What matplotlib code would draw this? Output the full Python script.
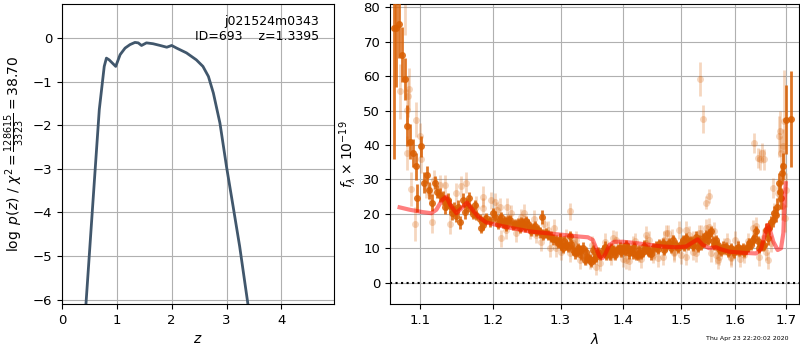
import numpy as np
import matplotlib.pyplot as plt
from matplotlib.ticker import NullLocator

# p(z) curve
z_grid = [0.40, 0.437, 0.60, 0.68, 0.77, 0.81, 0.86, 0.98, 1.06, 1.15, 1.24, 1.33,
          1.39, 1.45, 1.54, 1.66, 1.79, 1.91, 2.00, 2.09, 2.27, 2.45, 2.57, 2.67,
          2.76, 2.88, 3.00, 3.12, 3.24, 3.39, 3.45]
log_pz = [-6.6, -6.10, -3.10, -1.64, -0.65, -0.46, -0.50, -0.65, -0.38, -0.23, -0.15, -0.10,
          -0.11, -0.17, -0.11, -0.13, -0.17, -0.21, -0.17, -0.23, -0.34, -0.50, -0.65, -0.88,
          -1.26, -1.95, -2.95, -3.86, -4.78, -6.10, -6.60]

# spectrum, primary beam
wave_a = [1.0656, 1.0690, 1.0724, 1.0758, 1.0801, 1.0831, 1.0870, 1.0904, 1.0939, 1.0961,
          1.1004, 1.1048, 1.1088, 1.1114, 1.1154, 1.1189, 1.1220, 1.1256, 1.1301, 1.1346,
          1.1391, 1.1427, 1.1528, 1.1574, 1.1629, 1.1689, 1.1759, 1.1829, 1.1853, 1.1876,
          1.1900, 1.1947, 1.1995, 1.2019, 1.2091, 1.2139, 1.2163, 1.2212, 1.2236, 1.2285,
          1.2359, 1.2432, 1.2482, 1.2531, 1.2580, 1.2656, 1.2717, 1.2782, 1.2858, 1.2935,
          1.3012, 1.3038, 1.3090, 1.3142, 1.3220, 1.3274, 1.3298, 1.3377, 1.3457, 1.3510,
          1.3564, 1.3672, 1.3729, 1.3781, 1.3839, 1.3891, 1.3946, 1.4001, 1.4056, 1.4112,
          1.4168, 1.4224, 1.4281, 1.4337, 1.4394, 1.4451, 1.4566, 1.4682, 1.4747, 1.4864,
          1.4916, 1.5035, 1.5095, 1.5155, 1.5215, 1.5276, 1.5336, 1.5458, 1.5551, 1.5643,
          1.5768, 1.5925, 1.6052, 1.6148, 1.6277, 1.6342, 1.6407, 1.6505, 1.6571, 1.6604,
          1.6736, 1.6770, 1.6803, 1.6870, 1.6884, 1.6924, 1.6951, 1.7014, 1.7115,
          1.1323, 1.1369, 1.1450, 1.1482, 1.1505, 1.1597, 1.1652, 1.1712, 1.1735, 1.1806,
          1.2067, 1.2115, 1.2187, 1.2310, 1.2385, 1.2407, 1.2457, 1.2506, 1.2555, 1.2606,
          1.2631, 1.2682, 1.2732, 1.2808, 1.2884, 1.2960, 1.2985, 1.3060, 1.3115, 1.3170,
          1.3195, 1.3250, 1.3325, 1.3350, 1.3405, 1.3430, 1.3485, 1.3535, 1.3595, 1.3620,
          1.3700, 1.3755, 1.3810, 1.3865, 1.3920, 1.3975, 1.4030, 1.4085, 1.4140, 1.4195,
          1.4250, 1.4310, 1.4365, 1.4420, 1.4480, 1.4510, 1.4600, 1.4625, 1.4710, 1.4800,
          1.4830, 1.4950, 1.5000, 1.5060, 1.5125, 1.5185, 1.5245, 1.5305, 1.5365, 1.5400,
          1.5430, 1.5490, 1.5520, 1.5580, 1.5610, 1.5675, 1.5705, 1.5735, 1.5800, 1.5830,
          1.5865, 1.5895, 1.5960, 1.5990, 1.6020, 1.6085, 1.6115, 1.6180, 1.6210, 1.6245,
          1.6310, 1.6375, 1.6440, 1.6475, 1.6540, 1.6640, 1.6670, 1.6700, 1.6830, 1.6900]
flux_a = [74.0, 74.0, 75.3, 66.3, 59.2, 45.6, 41.0, 37.7, 33.8, 24.6,
          39.6, 29.1, 31.4, 26.8, 23.3, 29.1, 26.5, 25.5, 24.6, 23.1,
          22.3, 20.2, 17.5, 24.1, 22.6, 21.4, 19.7, 15.8, 16.8, 18.3,
          18.7, 17.8, 20.2, 19.2, 18.3, 17.3, 17.8, 18.3, 18.3, 16.8,
          17.3, 17.3, 17.8, 15.8, 15.8, 15.3, 19.0, 14.4, 13.4, 12.4,
          11.0, 10.0, 11.0, 13.6, 8.5, 10.0, 9.5, 6.6, 6.8, 9.5,
          7.6, 9.5, 8.1, 8.1, 9.5, 9.3, 10.2, 10.0, 10.9, 8.5,
          8.5, 8.1, 9.5, 9.0, 9.7, 9.0, 10.5, 11.5, 10.7, 12.4,
          11.0, 12.4, 12.9, 11.9, 10.7, 13.4, 12.4, 13.9, 14.9, 12.4,
          10.5, 10.0, 10.5, 10.0, 11.5, 12.4, 14.9, 11.0, 11.0, 15.3,
          18.3, 20.2, 19.7, 28.9, 26.5, 31.8, 33.8, 47.4, 47.6,
          22.0, 24.0, 21.5, 19.5, 22.0, 20.5, 24.5, 20.0, 22.5, 18.5,
          17.0, 19.0, 16.5, 17.0, 16.0, 17.5, 16.2, 17.0, 15.0, 16.5,
          15.0, 14.6, 14.0, 13.8, 12.6, 11.5, 12.8, 12.0, 10.5, 11.2,
          9.5, 9.0, 8.0, 10.2, 8.9, 7.2, 6.0, 7.0, 9.0, 8.0,
          10.5, 9.0, 10.0, 8.0, 9.8, 8.9, 9.2, 10.0, 9.5, 10.3,
          8.0, 8.3, 10.8, 9.4, 8.2, 10.1, 9.8, 11.2, 9.5, 11.5,
          10.2, 10.0, 11.3, 10.6, 10.9, 12.0, 11.5, 10.4, 11.0, 12.9,
          11.8, 12.5, 14.2, 12.0, 10.9, 11.0, 9.8, 9.2, 9.7, 10.3,
          9.0, 9.5, 9.3, 8.8, 9.6, 9.2, 9.5, 9.0, 9.8, 10.5,
          11.0, 13.0, 12.0, 10.2, 10.8, 13.0, 16.0, 17.5, 22.0, 24.5]
err_a = [38.0, 17.0, 10.0, 8.0, 6.0, 6.0, 5.0, 4.0, 4.0, 4.0,
         3.0, 3.0, 2.5, 2.5, 2.5, 2.0, 2.0, 2.0, 2.0, 2.0,
         2.0, 2.0, 2.0, 2.0, 2.0, 1.5, 1.5, 1.5, 1.5, 1.5,
         1.5, 1.5, 1.5, 1.5, 1.5, 1.5, 1.5, 1.5, 1.5, 1.5,
         1.5, 1.5, 1.5, 1.5, 1.5, 1.5, 2.0, 1.5, 1.5, 1.5,
         1.5, 1.5, 1.5, 1.5, 1.5, 1.5, 1.5, 1.5, 1.5, 1.5,
         1.5, 1.5, 1.5, 1.5, 1.5, 1.5, 1.5, 1.5, 1.5, 1.5,
         1.5, 1.5, 1.5, 1.5, 1.5, 1.5, 1.5, 1.5, 1.5, 1.5,
         1.5, 1.5, 1.5, 1.5, 1.5, 1.5, 1.5, 1.5, 1.5, 1.5,
         1.5, 1.5, 1.5, 1.5, 1.5, 1.5, 1.5, 1.5, 1.5, 2.0,
         2.0, 2.0, 2.0, 3.0, 3.0, 3.0, 4.0, 10.0, 14.0,
         2.0, 2.0, 2.0, 2.0, 2.0, 2.0, 2.0, 1.5, 1.5, 1.5,
         1.5, 1.5, 1.5, 1.5, 1.5, 1.5, 1.5, 1.5, 1.5, 1.5,
         1.5, 1.5, 1.5, 1.5, 1.5, 1.5, 1.5, 1.5, 1.5, 1.5,
         1.5, 1.5, 1.5, 1.5, 1.5, 1.5, 1.5, 1.5, 1.5, 1.5,
         1.5, 1.5, 1.5, 1.5, 1.5, 1.5, 1.5, 1.5, 1.5, 1.5,
         1.5, 1.5, 1.5, 1.5, 1.5, 1.5, 1.5, 1.5, 1.5, 1.5,
         1.5, 1.5, 1.5, 1.5, 1.5, 1.5, 1.5, 1.5, 1.5, 1.5,
         1.5, 1.5, 1.5, 1.5, 1.5, 1.5, 1.5, 1.5, 1.5, 1.5,
         1.5, 1.5, 1.5, 1.5, 1.5, 1.5, 1.5, 1.5, 1.5, 1.5,
         1.5, 1.5, 1.5, 1.5, 1.5, 2.0, 2.0, 2.0, 2.5, 3.0]

# spectrum, secondary beams
wave_b = [1.0732, 1.0804, 1.0827, 1.0831, 1.0840, 1.0853, 1.0878, 1.0935, 1.0948, 1.0991,
          1.1013, 1.1079, 1.1123, 1.1158, 1.1181, 1.1256, 1.1323, 1.1400, 1.1473, 1.1551,
          1.1620, 1.1759, 1.1853, 1.1853, 1.1971, 1.2019, 1.2091, 1.2115, 1.2187, 1.2261,
          1.2334, 1.2442, 1.2531, 1.2631, 1.2707, 1.2808, 1.2833, 1.2935, 1.3142, 1.3152,
          1.3246, 1.3246, 1.3404, 1.3457, 1.3564, 1.3699, 1.3809, 1.3839, 1.3946, 1.4056,
          1.4112, 1.4168, 1.4281, 1.4394, 1.4394, 1.4515, 1.4537, 1.4682, 1.4747, 1.4769,
          1.4887, 1.4887, 1.4976, 1.5095, 1.5095, 1.5215, 1.5215, 1.5336, 1.5355, 1.5367,
          1.5397, 1.5458, 1.5508, 1.5520, 1.5551, 1.5674, 1.5706, 1.5799, 1.5925, 1.5925,
          1.6052, 1.6180, 1.6342, 1.6374, 1.6440, 1.6473, 1.6486, 1.6525, 1.6571, 1.6604,
          1.6736, 1.6770, 1.6837, 1.6870, 1.6884, 1.6904, 1.6924, 1.6951, 1.6971, 1.6978,
          1.7000,
          1.2050, 1.2200, 1.2400, 1.2600, 1.2750, 1.2900, 1.3000, 1.3090, 1.3200, 1.3300,
          1.3500, 1.3620, 1.3750, 1.3890, 1.4000, 1.4200, 1.4300, 1.4450, 1.4600, 1.4700,
          1.4850, 1.5000, 1.5150, 1.5270, 1.5450, 1.5600, 1.5650, 1.5850, 1.6000, 1.6100,
          1.6250, 1.6400, 1.6550, 1.6650, 1.6700]
flux_b = [55.6, 82.0, 50.3, 37.7, 54.2, 56.3, 27.3, 17.1, 47.4, 42.5,
          35.9, 27.5, 26.0, 17.5, 29.9, 28.4, 28.4, 17.1, 26.0, 28.0,
          29.1, 22.1, 25.0, 21.6, 23.9, 23.6, 22.1, 12.9, 15.3, 20.2,
          14.4, 20.4, 15.3, 13.9, 11.7, 15.3, 10.0, 10.0, 8.5, 20.7,
          10.5, 12.4, 7.6, 6.6, 4.7, 11.9, 7.6, 12.9, 10.0, 6.6,
          6.2, 11.0, 8.5, 11.5, 13.9, 8.1, 9.0, 7.6, 14.4, 14.4,
          9.0, 8.5, 15.3, 7.6, 15.3, 12.4, 9.0, 14.4, 59.2, 14.4,
          47.6, 23.3, 25.3, 16.3, 8.5, 6.6, 7.6, 10.5, 7.6, 7.1,
          10.0, 8.1, 15.8, 40.6, 36.2, 7.4, 35.9, 37.7, 35.9, 9.0,
          27.5, 20.2, 26.0, 42.5, 44.0, 37.7, 22.3, 39.6, 46.9, 18.7,
          27.0,
          21.0, 22.0, 19.0, 18.5, 17.0, 16.0, 9.0, 13.0, 11.5, 6.5,
          11.0, 5.8, 9.0, 12.5, 7.0, 12.0, 6.8, 12.5, 7.2, 12.5,
          13.0, 8.0, 14.0, 8.5, 16.0, 15.0, 8.0, 12.0, 12.5, 7.0,
          12.0, 16.5, 13.0, 6.5, 11.5]
err_b = [8.0, 10.0, 6.0, 5.0, 6.0, 6.0, 5.0, 5.0, 5.0, 4.0,
         4.0, 3.0, 3.0, 3.0, 3.0, 3.0, 3.0, 3.0, 3.0, 3.0,
         3.0, 3.0, 3.0, 3.0, 2.5, 2.5, 2.5, 2.5, 2.5, 2.5,
         2.5, 2.5, 2.5, 2.5, 2.5, 2.5, 2.5, 2.5, 2.5, 2.5,
         2.5, 2.5, 2.5, 2.5, 2.5, 2.5, 2.5, 2.5, 2.5, 2.5,
         2.5, 2.5, 2.5, 2.5, 2.5, 2.5, 2.5, 2.5, 2.5, 2.5,
         2.5, 2.5, 2.5, 2.5, 2.5, 2.5, 2.5, 2.5, 5.0, 2.5,
         4.0, 2.0, 2.0, 2.5, 2.5, 2.5, 2.5, 2.5, 2.5, 2.5,
         2.5, 2.5, 2.5, 3.0, 3.0, 2.5, 3.0, 3.0, 3.0, 2.5,
         3.0, 3.0, 3.0, 6.0, 6.0, 5.0, 4.0, 5.0, 15.0, 4.0,
         5.0,
         2.5, 2.5, 2.5, 2.5, 2.5, 2.5, 2.5, 2.5, 2.5, 2.5,
         2.5, 2.5, 2.5, 2.5, 2.5, 2.5, 2.5, 2.5, 2.5, 2.5,
         2.5, 2.5, 2.5, 2.5, 2.5, 2.5, 2.5, 2.5, 2.5, 2.5,
         2.5, 2.5, 2.5, 2.5, 2.5]

# best-fit template
wave_model = [1.0732, 1.0862, 1.1035, 1.1145, 1.1212, 1.1292, 1.1346, 1.1400, 1.1482, 1.1551,
              1.1629, 1.1689, 1.1782, 1.1900, 1.2043, 1.2285, 1.2531, 1.2782, 1.3038, 1.3298,
              1.3430, 1.3510, 1.3564, 1.3618, 1.3661, 1.3705, 1.3781, 1.3863, 1.4001, 1.4224,
              1.4451, 1.4682, 1.4916, 1.5095, 1.5215, 1.5306, 1.5397, 1.5520, 1.5643, 1.5737,
              1.5893, 1.6148, 1.6407, 1.6505, 1.6571, 1.6637, 1.6683, 1.6750, 1.6837, 1.6904,
              1.6951, 1.6978, 1.7000]
flux_model = [21.9, 21.2, 20.5, 20.2, 21.2, 24.1, 25.0, 22.6, 20.2, 21.6,
              23.3, 21.6, 19.2, 17.5, 16.8, 15.8, 14.9, 14.4, 13.9, 13.4,
              13.2, 12.4, 10.0, 7.6, 7.1, 8.1, 11.0, 11.9, 11.9, 11.5,
              11.0, 10.5, 10.3, 10.5, 11.7, 12.6, 11.0, 10.0, 10.3, 9.7,
              9.0, 8.7, 8.5, 9.7, 13.4, 16.8, 15.3, 11.9, 9.5, 10.0,
              14.4, 24.1, 28.9]

wave_ticks = [1.1, 1.2, 1.3, 1.4, 1.5, 1.6, 1.7]

orange = '#d95f02'

fig = plt.figure(figsize=(8, 3.5), dpi=100)
ax1 = fig.add_axes([0.0775, 0.1314, 0.34, 0.857])
ax2 = fig.add_axes([0.4875, 0.1314, 0.51125, 0.857])

# left: redshift probability
ax1.plot(z_grid, log_pz, color='#41576c', lw=2)
ax1.set_xlim(0, 4.96)
ax1.set_ylim(-6.1, 0.78)
ax1.set_xticks([0, 1, 2, 3, 4])
ax1.set_yticks([-6, -5, -4, -3, -2, -1, 0])
ax1.grid(True)
ax1.set_xlabel('$z$', fontsize=10)
ax1.set_ylabel(r'$\log\ p(z)$ / $\chi^2=\frac{128615}{3323}=38.70$', fontsize=10)
ax1.text(0.945, 0.965, 'j021524m0343\nID=693    z=1.3395', transform=ax1.transAxes,
         ha='right', va='top', fontsize=9)
ax1.tick_params(labelsize=9.5)

# right: spectrum and model
ax2.errorbar(wave_b, flux_b, yerr=err_b, fmt='o', color=orange, alpha=0.25,
             ms=5, mec='none', elinewidth=2, capsize=0, zorder=2)
ax2.errorbar(wave_a, flux_a, yerr=err_a, fmt='o', color=orange, alpha=0.85,
             ms=5, mec='none', elinewidth=2, capsize=0, zorder=3)
ax2.plot(wave_model, flux_model, color='r', alpha=0.5, lw=3, zorder=4)
ax2.axhline(0, color='k', ls=':', lw=1.5, zorder=5)
ax2.set_xscale('log')
ax2.set_xlim(1.061, 1.727)
ax2.set_ylim(-6.2, 81)
ax2.set_xticks(wave_ticks)
ax2.set_xticklabels([f'{w:.1f}' for w in wave_ticks])
ax2.xaxis.set_minor_locator(NullLocator())
ax2.set_yticks(np.arange(0, 81, 10))
ax2.grid(True)
ax2.set_xlabel(r'$\lambda$', fontsize=10)
ax2.set_ylabel(r'$f_\lambda\times10^{-19}$', fontsize=10)
ax2.tick_params(labelsize=9.5)

fig.text(0.985, 0.025, 'Thu Apr 23 22:20:02 2020', ha='right', va='bottom', fontsize=4.5)

fig.savefig('out.png', dpi=100)
